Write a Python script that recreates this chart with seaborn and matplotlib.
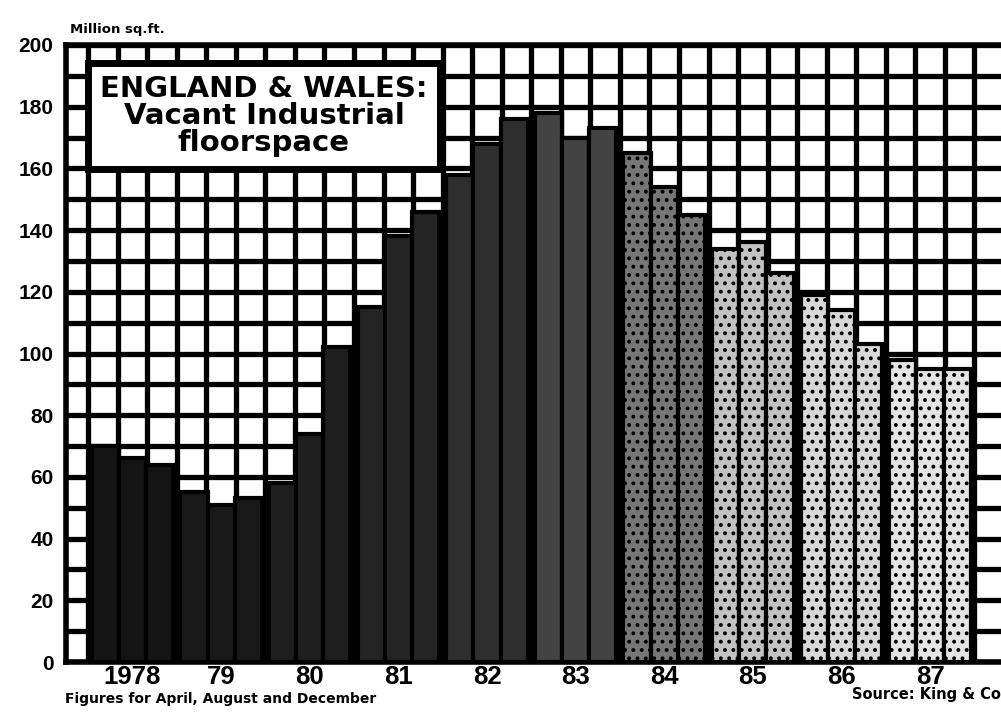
import numpy as np
import pandas as pd
import matplotlib
matplotlib.use("Agg")
import matplotlib.pyplot as plt
import seaborn as sns

# Vacant industrial floorspace, England & Wales (million sq.ft.)
years = ["1978", "79", "80", "81", "82", "83", "84", "85", "86", "87"]
months = ["April", "August", "December"]
april = [70, 55, 58, 115, 158, 178, 165, 134, 119, 98]
august = [66, 51, 74, 138, 168, 170, 154, 136, 114, 95]
december = [64, 53, 102, 146, 176, 173, 145, 126, 103, 95]

# shading darkens for the early years and fades for the later ones
year_shades = ["#141414", "#181818", "#1e1e1e", "#242424", "#2e2e2e",
               "#434343", "#767676", "#c2c2c2", "#d8d8d8", "#e4e4e4"]
year_hatches = ["", "", "", "", "", "", "..", "..", "..", ".."]

df = pd.DataFrame({
    "year": years * 3,
    "month": [m for m in months for _ in years],
    "floorspace": april + august + december,
})

sns.set_theme(style="white")
plt.rcParams["font.family"] = ["Liberation Sans", "DejaVu Sans"]
plt.rcParams["text.color"] = "black"
plt.rcParams["hatch.linewidth"] = 1.6

fig = plt.figure(figsize=(10.01, 7.14), dpi=100)
fig.patch.set_facecolor("white")
ax = fig.add_axes([66 / 1001, 52 / 714, 997 / 1001, 617 / 714])

sns.barplot(data=df, x="year", y="floorspace", hue="month",
            order=years, hue_order=months, width=0.92, gap=0,
            dodge=True, edgecolor="black", linewidth=3, legend=False, ax=ax)

for container in ax.containers:
    for i, bar in enumerate(container):
        bar.set_facecolor(year_shades[i])
        bar.set_hatch(year_hatches[i])
        bar.set_zorder(3)

ax.set_xlim(-0.75, 10.5)
ax.set_ylim(0, 200)

ax.set_yticks(np.arange(0, 201, 20))
ax.set_yticks(np.arange(0, 201, 10), minor=True)
ax.set_xticks(range(len(years)))
ax.set_xticks(-0.5 + np.arange(0, 34) / 3, minor=True)
ax.set_xticklabels(years)

ax.set_axisbelow(True)
ax.grid(which="both", axis="both", color="black", linewidth=3.8)
ax.xaxis.grid(False, which="major")

ax.tick_params(axis="both", which="both", length=0)
ax.tick_params(axis="x", labelsize=18.5, pad=2)
ax.tick_params(axis="y", labelsize=15, pad=9)
for lab in ax.get_xticklabels() + ax.get_yticklabels():
    lab.set_fontweight("bold")
    lab.set_color("black")

for side in ["left", "bottom", "top"]:
    ax.spines[side].set_visible(True)
    ax.spines[side].set_color("black")
    ax.spines[side].set_linewidth(4)
ax.spines["right"].set_visible(False)
ax.set_xlabel("")
ax.set_ylabel("")

wide_bold = ["DejaVu Sans"]

fig.text(70 / 1001, 1 - 30 / 714, "Million sq.ft.", fontsize=9.5,
         fontweight="bold", family=wide_bold, color="black",
         ha="left", va="center")

fig.text(264 / 1001, 1 - 116 / 714,
         "ENGLAND & WALES:\nVacant Industrial\nfloorspace",
         fontsize=21, fontweight="bold", family=wide_bold, color="black",
         ha="center", va="center", linespacing=0.95, zorder=10,
         bbox=dict(boxstyle="square,pad=0.42", fc="white", ec="black", lw=5))

fig.text(65 / 1001, 1 - 699 / 714, "Figures for April, August and December",
         fontsize=10, fontweight="bold", family=wide_bold, color="black",
         ha="left", va="center")
fig.text(852 / 1001, 1 - 694 / 714, "Source: King & Co",
         fontsize=10.5, fontweight="bold", family=wide_bold, color="black",
         ha="left", va="center")

fig.savefig("out.png", dpi=100)
